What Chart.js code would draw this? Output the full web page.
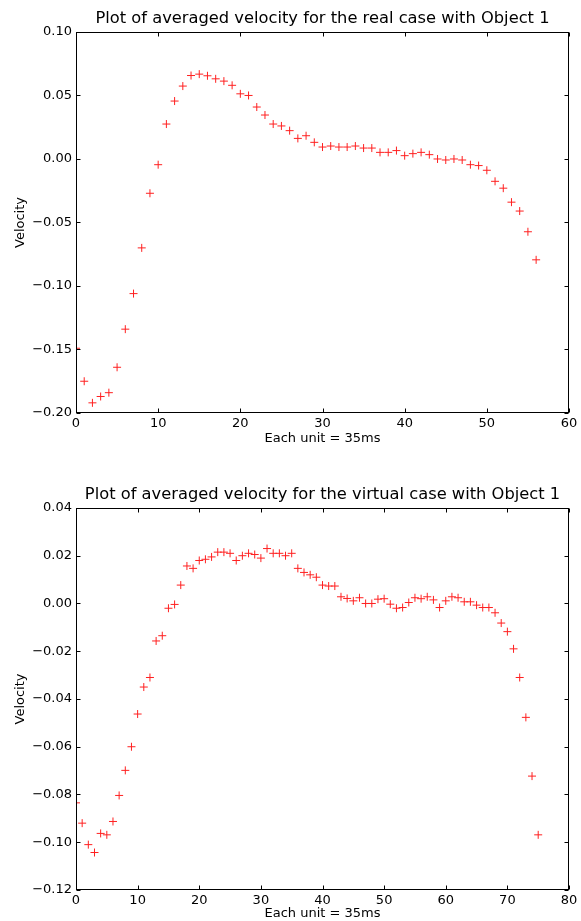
<!DOCTYPE html>
<html>
<head>
<meta charset="utf-8">
<script src="https://cdn.jsdelivr.net/npm/chart.js@4.4.1/dist/chart.umd.min.js"></script>
<style>
  html, body { margin: 0; padding: 0; background: #fff; }
  #wrap { position: relative; width: 581px; height: 921px; }
  .box { position: absolute; left: 0; width: 581px; }
</style>
</head>
<body>
<div id="wrap">
  <div class="box" style="top:0;height:460px"><canvas id="chartReal"></canvas></div>
  <div class="box" style="top:460px;height:461px"><canvas id="chartVirtual"></canvas></div>
</div>
<script>
// === DONNEES : vitesse moyenne, cas reel (un point par unite de 35ms) ===
const realVelocity = [
  -0.149, -0.175, -0.192, -0.187, -0.184, -0.164, -0.134, -0.106, -0.070, -0.027,
  -0.0045, 0.0275, 0.0456, 0.0574, 0.0657, 0.0668, 0.0655, 0.0631, 0.0613, 0.058,
  0.0513, 0.050, 0.0409, 0.0346, 0.0275, 0.026, 0.0223, 0.0162, 0.0183, 0.0131,
  0.0094, 0.0102, 0.0094, 0.0094, 0.0102, 0.0086, 0.0086, 0.0052, 0.0052, 0.0066,
  0.0026, 0.0042, 0.0052, 0.0034, 0.0, -0.0008, 0.0, -0.0008, -0.0045, -0.0052,
  -0.0089, -0.0176, -0.023, -0.034, -0.041, -0.0573, -0.0794
];

// === DONNEES : cas virtuel ===
const virtualVelocity = [
  -0.0835, -0.092, -0.101, -0.1043, -0.0963, -0.0969, -0.0913, -0.0804, -0.0699, -0.060,
  -0.0463, -0.035, -0.031, -0.0157, -0.0135, -0.002, -0.0004, 0.0077, 0.0157, 0.0147,
  0.018, 0.0185, 0.0195, 0.0215, 0.0215, 0.021, 0.018, 0.020, 0.021, 0.0205,
  0.019, 0.023, 0.021, 0.021, 0.020, 0.021, 0.0147, 0.013, 0.012, 0.011,
  0.0077, 0.0073, 0.0073, 0.0028, 0.0021, 0.0011, 0.0024, 0.0, 0.0, 0.0018,
  0.002, -0.0003, -0.002, -0.0017, 0.0004, 0.0024, 0.002, 0.0028, 0.0015, -0.0017,
  0.0011, 0.0028, 0.0024, 0.0007, 0.0007, -0.0007, -0.0017, -0.0017, -0.0039, -0.0082,
  -0.0118, -0.019, -0.031, -0.0477, -0.0723, -0.0969
];

// === GRADUATIONS ===
const realXTicks = [0, 10, 20, 30, 40, 50, 60];
const realYTicks = [-0.20, -0.15, -0.10, -0.05, 0.00, 0.05, 0.10];
const virtualXTicks = [0, 10, 20, 30, 40, 50, 60, 70, 80];
const virtualYTicks = [-0.12, -0.10, -0.08, -0.06, -0.04, -0.02, 0.00, 0.02, 0.04];

const realTitle = "Plot of averaged velocity for the real case with Object 1";
const virtualTitle = "Plot of averaged velocity for the virtual case with Object 1";

const FONT = "'DejaVu Sans', sans-serif";

// cadre + petites graduations vers l'interieur (style matplotlib)
const frameTicks = {
  id: "frameTicks",
  afterDatasetsDraw(chart) {
    const ctx = chart.ctx;
    const a = chart.chartArea;
    const x = chart.scales.x, y = chart.scales.y;
    const L = Math.round(a.left) + 0.5, R = Math.round(a.right) - 0.5;
    const T = Math.round(a.top) + 0.5, B = Math.round(a.bottom) - 0.5;
    ctx.save();
    ctx.strokeStyle = "#000";
    ctx.lineWidth = 1;
    ctx.beginPath();
    x.ticks.forEach(t => {
      const px = Math.round(x.getPixelForValue(t.value)) + 0.5;
      ctx.moveTo(px, B); ctx.lineTo(px, B - 4);
      ctx.moveTo(px, T); ctx.lineTo(px, T + 4);
    });
    y.ticks.forEach(t => {
      const py = Math.round(y.getPixelForValue(t.value)) + 0.5;
      ctx.moveTo(L, py); ctx.lineTo(L + 4, py);
      ctx.moveTo(R, py); ctx.lineTo(R - 4, py);
    });
    ctx.stroke();
    ctx.strokeRect(L, T, R - L, B - T);
    ctx.restore();
  }
};

function fmt(v) {
  if (Math.abs(v) < 1e-9) v = 0;
  const s = v.toFixed(2);
  return s.replace("-", "\u2212");
}

function makeChart(id, title, values, xTicks, yTicks, padTop, padBottom, xHeight) {
  const points = values.map((v, i) => ({ x: i, y: v }));
  return new Chart(document.getElementById(id), {
    type: "scatter",
    data: {
      datasets: [{
        data: points,
        pointStyle: "cross",
        pointRadius: 4,
        pointHoverRadius: 4,
        borderColor: "#ff2020",
        backgroundColor: "#ff2020",
        borderWidth: 1,
        clip: 0
      }]
    },
    plugins: [frameTicks],
    options: {
      responsive: true,
      maintainAspectRatio: false,
      animation: false,
      events: [],
      layout: { padding: { top: padTop, right: 12, bottom: padBottom, left: 0 } },
      plugins: {
        legend: { display: false },
        tooltip: { enabled: false },
        title: {
          display: true,
          text: title,
          fullSize: false,
          color: "#000",
          font: { family: FONT, size: 16.3, weight: "normal", lineHeight: 1.2 },
          padding: { top: 9, bottom: 3.4 }
        }
      },
      scales: {
        x: {
          type: "linear",
          min: xTicks[0],
          max: xTicks[xTicks.length - 1],
          afterBuildTicks: s => { s.ticks = xTicks.map(v => ({ value: v })); },
          afterFit: s => { s.height = xHeight; },
          grid: { display: false, drawTicks: false },
          border: { display: false },
          ticks: { color: "#000", padding: 3, maxRotation: 0, font: { family: FONT, size: 13 } },
          title: {
            display: true,
            text: "Each unit = 35ms",
            color: "#000",
            font: { family: FONT, size: 13 },
            padding: { top: 0, bottom: 0 }
          }
        },
        y: {
          type: "linear",
          min: yTicks[0],
          max: yTicks[yTicks.length - 1],
          afterBuildTicks: s => { s.ticks = yTicks.map(v => ({ value: v })); },
          afterFit: s => { s.width = 76; },
          grid: { display: false, drawTicks: false },
          border: { display: false },
          ticks: { color: "#000", padding: 4, font: { family: FONT, size: 13 }, callback: v => fmt(v) },
          title: {
            display: true,
            text: "Velocity",
            color: "#000",
            font: { family: FONT, size: 13 },
            padding: { top: 13, bottom: 0 }
          }
        }
      }
    }
  });
}

makeChart("chartReal", realTitle, realVelocity, realXTicks, realYTicks, 0, 14, 33);
makeChart("chartVirtual", virtualTitle, virtualVelocity, virtualXTicks, virtualYTicks, 16, 0, 31);
</script>
</body>
</html>
